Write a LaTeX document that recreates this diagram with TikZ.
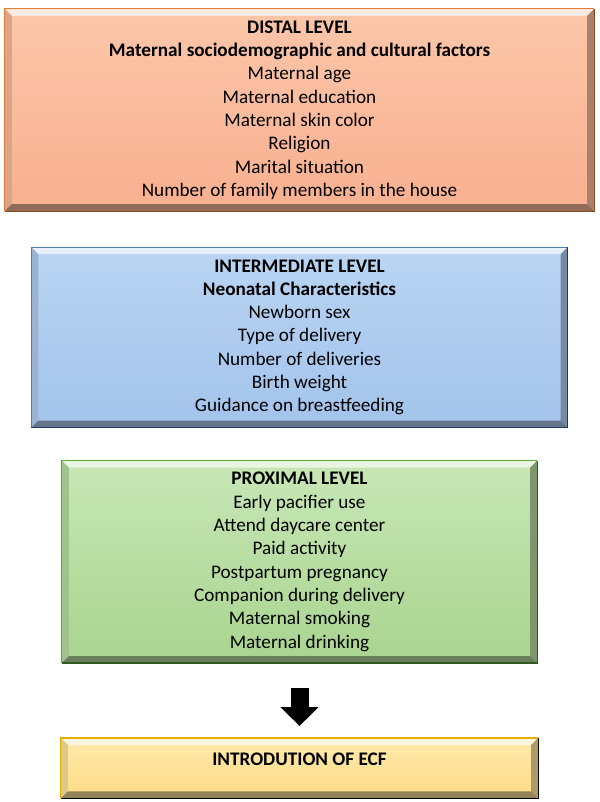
\documentclass[tikz,border=0pt]{standalone}
\usepackage{fontspec}
\setmainfont{Carlito}
\usetikzlibrary{positioning,arrows.meta}
\definecolor{salmonA}{HTML}{FCC6A9}
\definecolor{salmonB}{HTML}{F8B090}
\definecolor{salmon}{HTML}{F9BC9C}
\definecolor{salmonL}{HTML}{E87A36}
\definecolor{azulA}{HTML}{BAD5F3}
\definecolor{azulB}{HTML}{A3C3EB}
\definecolor{azul}{HTML}{AECBEF}
\definecolor{azulL}{HTML}{4F81BD}
\definecolor{azulD}{HTML}{1F3A60}
\definecolor{verdeA}{HTML}{C8E7B6}
\definecolor{verdeB}{HTML}{A9D48F}
\definecolor{verde}{HTML}{B6DCA0}
\definecolor{verdeL}{HTML}{5EA83A}
\definecolor{verdeD}{HTML}{2F5A1E}
\definecolor{oroA}{HTML}{FFE9AA}
\definecolor{oroB}{HTML}{FDDB86}
\definecolor{oro}{HTML}{FEE298}
\definecolor{oroL}{HTML}{E6AE00}
% bevelled edge of a box: node, base colour, top/left line, bottom/right line
\newcommand{\bisel}[4]{%
  \fill[#2!30!white] (#1.north west) -- (#1.north east) -- ([shift={(-7bp,-7bp)}]#1.north east) -- ([shift={(7bp,-7bp)}]#1.north west) -- cycle;
  \fill[#2!88!black] (#1.north west) -- ([shift={(7bp,-7bp)}]#1.north west) -- ([shift={(7bp,7bp)}]#1.south west) -- (#1.south west) -- cycle;
  \fill[#2!68!black] (#1.north east) -- (#1.south east) -- ([shift={(-7bp,7bp)}]#1.south east) -- ([shift={(-7bp,-7bp)}]#1.north east) -- cycle;
  \fill[#2!58!black] (#1.south west) -- ([shift={(7bp,7bp)}]#1.south west) -- ([shift={(-7bp,7bp)}]#1.south east) -- (#1.south east) -- cycle;
  \draw[#3,line width=1.3bp] (#1.south west) |- (#1.north east);
  \draw[#4,line width=1.3bp] (#1.north east) |- (#1.south west);}

\begin{document}
\begin{tikzpicture}[x=1bp,y=-1bp,
    nivel/.style={rectangle,inner sep=0pt,align=center,
                  font=\fontsize{19.2bp}{23.3bp}\selectfont},
    distal/.style={nivel,top color=salmonA,bottom color=salmonB,
                   minimum width=589bp,minimum height=202bp},
    inter/.style={nivel,top color=azulA,bottom color=azulB,
                  minimum width=536bp,minimum height=180bp},
    prox/.style={nivel,top color=verdeA,bottom color=verdeB,
                 minimum width=475bp,minimum height=202bp},
    ecf/.style={nivel,top color=oroA,bottom color=oroB,
                minimum width=477bp,minimum height=60bp,
                text height=12.4bp,text depth=18.8bp},
    flecha/.style={-{Triangle[width=37bp,length=19bp]},line width=18bp,black}]
  \useasboundingbox (0,0) rectangle (600,802);
  \node[distal] (dis) at (299.5,110) {\textbf{DISTAL LEVEL}\\\textbf{Maternal sociodemographic and cultural factors}\\Maternal age\\Maternal education\\Maternal skin color\\Religion\\Marital situation\\Number of family members in the house};
  \node[inter,below=36bp of dis] (int) {\textbf{INTERMEDIATE LEVEL}\\\textbf{Neonatal Characteristics}\\Newborn sex\\Type of delivery\\Number of deliveries\\Birth weight\\Guidance on breastfeeding};
  \node[prox,below=33bp of int] (pro) {\textbf{PROXIMAL LEVEL}\\Early pacifier use\\Attend daycare center\\Paid activity\\Postpartum pregnancy\\Companion during delivery\\Maternal smoking\\Maternal drinking};
  \node[ecf,below=75bp of pro] (ecf) {\textbf{INTRODUTION OF ECF}};
  \bisel{dis}{salmon}{salmonL}{salmonL!60!black}
  \bisel{int}{azul}{azulL}{azulD}
  \bisel{pro}{verde}{verdeL}{verdeD}
  \bisel{ecf}{oro}{oroL}{black}
  \draw[flecha] ([yshift=-25bp]pro.south) -- ([yshift=12bp]ecf.north);
\end{tikzpicture}
\end{document}
